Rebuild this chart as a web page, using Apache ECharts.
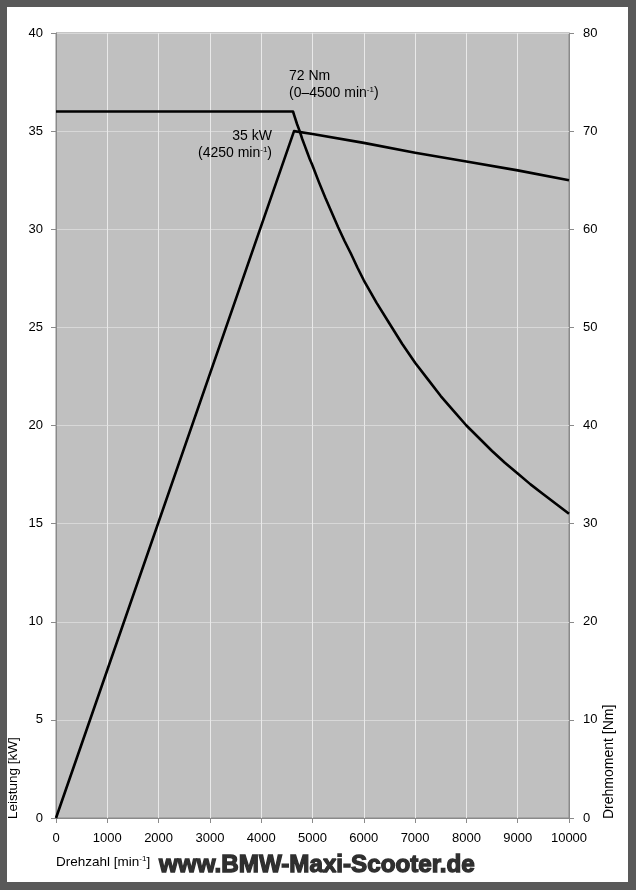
<!DOCTYPE html>
<html>
<head>
<meta charset="utf-8">
<script src="https://cdn.jsdelivr.net/npm/echarts@6/dist/echarts.min.js"></script>
<style>
  html, body { margin: 0; padding: 0; background: #595959; width: 636px; height: 890px; overflow: hidden; }
  #chart { position: absolute; left: 7px; top: 7px; width: 621px; height: 875px; background: #ffffff; }
</style>
</head>
<body>
<div id="chart"></div>
<script>
// Power curve (kW, left axis)
const powerRpm = [0, 4640, 5000, 6000, 7000, 8000, 9000, 10000];
const powerKw  = [0, 35.0, 34.85, 34.4, 33.9, 33.45, 33.0, 32.5];

// Torque curve (Nm, right axis)
const torqueRpm = [0, 4620, 4650, 4700, 4750, 4800, 4850, 4900, 4950, 5000, 5125, 5250, 5375, 5500, 5625, 5750, 5875, 6000,
                   6250, 6500, 6750, 7000, 7250, 7500, 7750, 8000, 8250, 8500, 8750, 9000, 9250, 9500, 9750, 10000];
const torqueNm  = [72, 72, 71.5, 70.7, 70.0, 69.2, 68.5, 67.8, 67.1, 66.5, 64.8, 63.2, 61.7, 60.2, 58.8, 57.5, 56.1, 54.8,
                   52.5, 50.4, 48.3, 46.4, 44.7, 43.0, 41.5, 40.0, 38.7, 37.4, 36.2, 35.1, 34.0, 33.0, 32.0, 31.0];

const xTicks = [0, 10000, 1000];   // min, max, interval
const yLeftTicks = [0, 40, 5];
const yRightTicks = [0, 80, 10];

const FONT = "'Liberation Sans', Arial, Helvetica, sans-serif";

const chart = echarts.init(document.getElementById('chart'), null, { renderer: 'canvas' });

const pairs = (xs, ys) => xs.map((x, i) => [x, ys[i]]);
const axisGray = '#8a8a8a';

const sup = { fontSize: 8, fontFamily: FONT, color: '#000', verticalAlign: 'top', padding: [0, 0, 6, 0] };

chart.setOption({
  animation: false,
  textStyle: { fontFamily: FONT },
  grid: {
    left: 49, top: 26, right: 59, bottom: 64,
    show: true, backgroundColor: '#c0c0c0', borderColor: axisGray, borderWidth: 1
  },
  xAxis: {
    type: 'value', min: xTicks[0], max: xTicks[1], interval: xTicks[2],
    axisLine: { show: true, lineStyle: { color: axisGray, width: 1 } },
    axisTick: { show: true, inside: false, length: 5, lineStyle: { color: axisGray } },
    axisLabel: { color: '#000', fontSize: 13, fontFamily: FONT, margin: 14, formatter: v => String(v) },
    splitLine: { show: true, lineStyle: { color: '#e9e9e9', width: 1 } }
  },
  yAxis: [
    {
      type: 'value', min: yLeftTicks[0], max: yLeftTicks[1], interval: yLeftTicks[2],
      position: 'left',
      axisLine: { show: true, lineStyle: { color: axisGray, width: 1 } },
      axisTick: { show: true, inside: false, length: 5, lineStyle: { color: axisGray } },
      axisLabel: { color: '#000', fontSize: 13, fontFamily: FONT, margin: 13 },
      splitLine: { show: true, lineStyle: { color: '#d8d8d8', width: 1 } }
    },
    {
      type: 'value', min: yRightTicks[0], max: yRightTicks[1], interval: yRightTicks[2],
      position: 'right',
      axisLine: { show: true, lineStyle: { color: axisGray, width: 1 } },
      axisTick: { show: true, inside: false, length: 5, lineStyle: { color: axisGray } },
      axisLabel: { color: '#000', fontSize: 13, fontFamily: FONT, margin: 14 },
      splitLine: { show: false }
    }
  ],
  series: [
    {
      name: 'Leistung', type: 'line', yAxisIndex: 0, data: pairs(powerRpm, powerKw),
      showSymbol: false, symbol: 'none', smooth: false,
      lineStyle: { color: '#000', width: 2.6, join: 'round' }
    },
    {
      name: 'Drehmoment', type: 'line', yAxisIndex: 1, data: pairs(torqueRpm, torqueNm),
      showSymbol: false, symbol: 'none', smooth: false,
      lineStyle: { color: '#000', width: 2.6, join: 'round' }
    }
  ],
  graphic: [
    {
      type: 'text', x: 282, y: 69, z: 100,
      style: { text: '72 Nm', fontSize: 14, fontFamily: FONT, fill: '#000', align: 'left', verticalAlign: 'middle' }
    },
    {
      type: 'text', x: 282, y: 86, z: 100,
      style: {
        text: '(0–4500 min{s|-1})', rich: { s: sup },
        fontSize: 14, fontFamily: FONT, fill: '#000', align: 'left', verticalAlign: 'middle'
      }
    },
    {
      type: 'text', x: 265, y: 129, z: 100,
      style: { text: '35 kW', fontSize: 14, fontFamily: FONT, fill: '#000', align: 'right', verticalAlign: 'middle' }
    },
    {
      type: 'text', x: 265, y: 146, z: 100,
      style: {
        text: '(4250 min{s|-1})', rich: { s: sup },
        fontSize: 14, fontFamily: FONT, fill: '#000', align: 'right', verticalAlign: 'middle'
      }
    },
    {
      type: 'text', x: 6, y: 812, rotation: Math.PI / 2, z: 100,
      style: { text: 'Leistung [kW]', fontSize: 13.5, fontFamily: FONT, fill: '#000', align: 'left', verticalAlign: 'middle' }
    },
    {
      type: 'text', x: 602, y: 812, rotation: Math.PI / 2, z: 100,
      style: { text: 'Drehmoment [Nm]', fontSize: 14, fontFamily: FONT, fill: '#000', align: 'left', verticalAlign: 'middle' }
    },
    {
      type: 'text', x: 49, y: 855, z: 100,
      style: {
        text: 'Drehzahl [min{s|-1}]', rich: { s: sup },
        fontSize: 13.5, fontFamily: FONT, fill: '#000', align: 'left', verticalAlign: 'middle'
      }
    },
    {
      type: 'text', x: 152, y: 858, z: 100,
      style: {
        text: 'www.BMW-Maxi-Scooter.de',
        fontSize: 24.2, fontWeight: 'bold', fontFamily: FONT, fill: '#2f2f2f',
        stroke: '#2f2f2f', lineWidth: 1.3,
        align: 'left', verticalAlign: 'middle',
        shadowBlur: 8, shadowColor: 'rgba(0,0,0,0.95)', shadowOffsetX: 4, shadowOffsetY: 5
      }
    }
  ]
});
</script>
</body>
</html>
